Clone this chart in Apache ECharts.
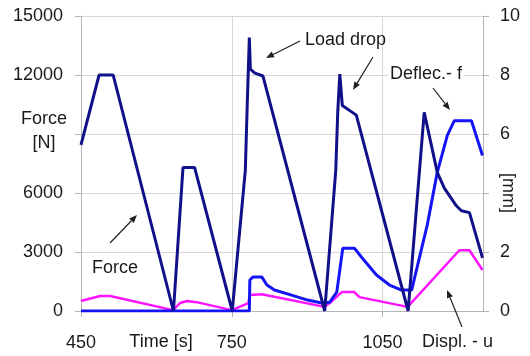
<!DOCTYPE html>
<html>
<head>
<meta charset="utf-8">
<script src="https://cdn.jsdelivr.net/npm/echarts@6/dist/echarts.min.js"></script>
<style>
    html, body { margin: 0; padding: 0; background: #fff; }
    #chart { width: 530px; height: 356px; }
</style>
</head>
<body>
<div id="chart"></div>
<script>
// time axis [s]
const forceTime = [450, 486, 514, 634, 653, 676, 751, 777, 781, 785, 787, 796, 812, 935, 957, 961, 965, 970, 990, 998, 1101, 1133, 1159, 1173, 1197, 1207, 1223, 1249];
const forceValue = [8450, 12000, 12000, 0, 7300, 7300, 0, 7150, 10650, 13900, 12300, 12100, 11950, 0, 7150, 10150, 12050, 10450, 10100, 9950, 0, 10100, 7050, 6250, 5350, 5100, 5000, 2700];

const deflTime = [450, 785, 786, 792, 810, 820, 835, 869, 901, 929, 945, 959, 971, 994, 1010, 1038, 1064, 1088, 1108, 1139, 1159, 1179, 1193, 1227, 1249];
const deflValue = [0, 0, 1.05, 1.15, 1.15, 0.88, 0.71, 0.54, 0.37, 0.27, 0.3, 0.64, 2.13, 2.13, 1.79, 1.22, 0.88, 0.71, 0.71, 2.91, 4.7, 5.95, 6.45, 6.45, 5.27];

const displTime = [450, 488, 508, 633, 647, 661, 680, 750, 756, 783, 786, 810, 935, 945, 969, 994, 1004, 1100, 1203, 1223, 1249];
const displValue = [0.34, 0.51, 0.51, 0.03, 0.27, 0.34, 0.3, 0.03, 0.07, 0.27, 0.54, 0.57, 0.14, 0.27, 0.64, 0.64, 0.47, 0.14, 2.06, 2.06, 1.39];

const xTicks = [450, 750, 1050];
const forceTicks = [0, 3000, 6000, 12000, 15000];
const mmTicks = [0, 2, 6, 8, 10];

const FONT = '"Liberation Sans", Arial, sans-serif';
const TEXT = '#1a1a1a';

function zip(xs, ys) {
    return xs.map((x, i) => [x, ys[i]]);
}

function label(text, x, y, extra) {
    return {
        type: 'text',
        x: x,
        y: y,
        z: 100,
        style: Object.assign({
            text: text,
            fill: TEXT,
            font: '18px ' + FONT,
            textVerticalAlign: 'middle',
        }, extra || {}),
    };
}

function arrow(x1, y1, x2, y2) {
    const ang = Math.atan2(y2 - y1, x2 - x1);
    const len = 8;
    const half = 3.2;
    const bx = x2 - len * Math.cos(ang);
    const by = y2 - len * Math.sin(ang);
    const px = -Math.sin(ang) * half;
    const py = Math.cos(ang) * half;
    return [
        {
            type: 'line',
            z: 100,
            shape: { x1: x1, y1: y1, x2: bx, y2: by },
            style: { stroke: '#222', lineWidth: 1.2 },
        },
        {
            type: 'polygon',
            z: 100,
            shape: { points: [[x2, y2], [bx + px, by + py], [bx - px, by - py]] },
            style: { fill: '#222' },
        },
    ];
}

const chart = echarts.init(document.getElementById('chart'), null, { renderer: 'canvas' });

const axisLabelStyle = { color: TEXT, fontSize: 18, fontFamily: FONT };

chart.setOption({
    animation: false,
    grid: { left: 81, right: 47, top: 16, bottom: 45, containLabel: false },
    xAxis: {
        type: 'value',
        min: 450,
        max: 1250,
        interval: 300,
        axisLine: { show: true, lineStyle: { color: '#b4b4b4', width: 1 } },
        axisTick: { show: true, length: 6, lineStyle: { color: '#b4b4b4' } },
        splitLine: { show: true, lineStyle: { color: '#d6d6d6', width: 1 } },
        axisLabel: Object.assign({
            margin: 23,
            showMaxLabel: false,
            formatter: (v) => (xTicks.includes(v) ? String(v) : ''),
        }, axisLabelStyle),
    },
    yAxis: [
        {
            type: 'value',
            min: 0,
            max: 15000,
            interval: 3000,
            axisLine: { show: true, lineStyle: { color: '#b4b4b4', width: 1 } },
            axisTick: { show: true, length: 6, lineStyle: { color: '#b4b4b4' } },
            splitLine: { show: true, lineStyle: { color: '#d6d6d6', width: 1 } },
            axisLabel: Object.assign({
                margin: 18,
                formatter: (v) => (forceTicks.includes(v) ? String(v) : ''),
            }, axisLabelStyle),
        },
        {
            type: 'value',
            min: 0,
            max: 10,
            interval: 2,
            position: 'right',
            axisLine: { show: true, lineStyle: { color: '#b4b4b4', width: 1 } },
            axisTick: { show: true, length: 6, lineStyle: { color: '#b4b4b4' } },
            splitLine: { show: false },
            axisLabel: Object.assign({
                margin: 17,
                formatter: (v) => (mmTicks.includes(v) ? String(v) : ''),
            }, axisLabelStyle),
        },
    ],
    series: [
        {
            name: 'Force',
            type: 'line',
            yAxisIndex: 0,
            data: zip(forceTime, forceValue),
            showSymbol: false,
            lineStyle: { color: '#10108a', width: 3 },
            z: 3,
        },
        {
            name: 'Deflec.- f',
            type: 'line',
            yAxisIndex: 1,
            data: zip(deflTime, deflValue),
            showSymbol: false,
            lineStyle: { color: '#1414f5', width: 3 },
            z: 2,
        },
        {
            name: 'Displ. - u',
            type: 'line',
            yAxisIndex: 1,
            data: zip(displTime, displValue),
            showSymbol: false,
            lineStyle: { color: '#ff14ff', width: 2.5 },
            z: 1,
        },
    ],
    graphic: [
        label('Force\n[N]', 44, 131, { textAlign: 'center', lineHeight: 24 }),
        label('Time [s]', 161, 342, { textAlign: 'center' }),
        Object.assign(label('[mm]', 508, 193, { textAlign: 'center' }), { rotation: -Math.PI / 2 }),
        label('Load drop', 305, 40),
        label('Deflec.- f', 388, 74, { backgroundColor: '#fff', padding: [0, 2, 0, 2] }),
        label('Force', 92, 268),
        label('Displ. - u', 422, 342),
        ...arrow(300, 41, 266, 58),
        ...arrow(373, 57, 353, 90),
        ...arrow(433, 88, 450, 110),
        ...arrow(110, 243, 137, 215),
        ...arrow(462, 327, 447, 290),
    ],
});
</script>
</body>
</html>
